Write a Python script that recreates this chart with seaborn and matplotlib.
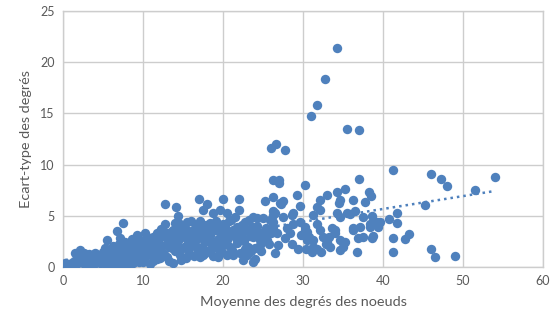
import matplotlib
matplotlib.use("Agg")
import matplotlib.pyplot as plt
import numpy as np
import pandas as pd
import seaborn as sns

# Nodes: (mean degree, std of degree), grouped by mean-degree band
band_0_5 = [(0.3, 0.4), (0.45, 0.35), (0.5, 0.1), (0.65, 0.35), (0.8, 0.3), (1.1, 0.0),
            (1.3, 0.5), (1.5, 1.35), (1.7, 0.9), (1.9, 0.4), (2.1, 1.65), (2.2, 1.2),
            (2.4, 0.8), (2.6, 1.4), (2.8, 0.2), (3.0, 0.05), (3.1, 0.9), (3.3, 1.3),
            (3.5, 0.5), (3.7, 1.1), (3.9, 0.3), (4.0, 1.4), (4.2, 0.8), (4.4, 1.2),
            (4.6, 0.4), (4.8, 1.0), (5.0, 1.5)]

band_5_10 = [(5.1, 0.6), (5.2, 0.3), (5.3, 1.9), (5.4, 1.0), (5.5, 2.65), (5.6, 1.2),
             (5.7, 1.7), (5.8, 0.3), (5.9, 0.6), (6.0, 1.7), (6.1, 0.9), (6.2, 1.3),
             (6.3, 2.1), (6.4, 0.2), (6.5, 1.4), (6.6, 1.8), (6.7, 3.55), (6.8, 0.5),
             (6.9, 0.05), (6.9, 1.0), (7.0, 2.3), (7.1, 2.8), (7.2, 1.1), (7.3, 1.6),
             (7.4, 0.3), (7.45, 4.3), (7.5, 1.8), (7.6, 0.7), (7.7, 2.0), (7.8, 2.5),
             (7.9, 1.1), (8.0, 1.5), (8.1, 0.3), (8.2, 0.7), (8.3, 2.2), (8.4, 1.7),
             (8.5, 1.0), (8.6, 2.7), (8.7, 0.4), (8.8, 1.8), (8.9, 2.3), (9.0, 0.6),
             (9.1, 2.4), (9.2, 3.1), (9.3, 1.6), (9.4, 1.3), (9.5, 0.5), (9.6, 2.0),
             (9.7, 2.6), (9.8, 0.9), (9.9, 1.5)]

band_10_20 = [(10.0, 0.5), (10.0, 2.6), (10.2, 1.0), (10.25, 3.3), (10.4, 1.6), (10.5, 2.9),
              (10.6, 2.2), (10.8, 1.8), (10.9, 0.35), (11.0, 1.2), (11.1, 2.5), (11.2, 2.9),
              (11.3, 0.6), (11.4, 1.9), (11.6, 1.5), (11.7, 3.3), (11.8, 0.8), (11.9, 2.8),
              (12.0, 2.4), (12.1, 0.9), (12.2, 1.5), (12.3, 3.7), (12.4, 2.1), (12.5, 3.0),
              (12.6, 1.3), (12.75, 4.25), (12.8, 6.15), (12.8, 3.2), (13.0, 3.3), (13.0, 1.0),
              (13.1, 2.5), (13.2, 0.6), (13.3, 2.0), (13.5, 2.7), (13.5, 3.4), (13.6, 1.9),
              (13.75, 0.4), (13.8, 3.6), (13.9, 2.9), (14.0, 1.6), (14.0, 4.3), (14.1, 5.9),
              (14.2, 2.3), (14.3, 3.6), (14.4, 4.95), (14.5, 2.7), (14.6, 4.25), (14.6, 1.2),
              (14.7, 1.8), (14.8, 0.7), (14.9, 3.1), (15.0, 4.0), (15.1, 2.0), (15.2, 2.9),
              (15.3, 3.8), (15.4, 0.9), (15.5, 4.4), (15.6, 2.6), (15.7, 3.4), (15.8, 1.4),
              (15.9, 2.0), (16.0, 3.2), (16.0, 4.5), (16.2, 2.9), (16.3, 3.6), (16.4, 1.1),
              (16.5, 2.2), (16.6, 3.5), (16.7, 4.0), (16.8, 2.7), (16.9, 1.7), (17.0, 6.7),
              (17.1, 4.5), (17.1, 3.3), (17.1, 1.0), (17.3, 3.9), (17.4, 2.0), (17.5, 5.6),
              (17.5, 1.2), (17.6, 3.0), (17.75, 1.35), (17.8, 2.5), (17.9, 4.1), (18.0, 6.15),
              (18.0, 3.6), (18.1, 1.6), (18.2, 2.9), (18.3, 3.2), (18.4, 4.3), (18.5, 2.4),
              (18.6, 1.9), (18.8, 5.25), (18.8, 1.05), (18.9, 3.6), (19.0, 3.9), (19.1, 4.5),
              (19.2, 2.65), (19.3, 1.9), (19.4, 1.0), (19.5, 4.0), (19.6, 5.6), (19.6, 3.3),
              (19.6, 1.35), (19.8, 2.9), (19.8, 2.1), (19.9, 1.5)]

band_20_30 = [(20.0, 6.65), (20.0, 4.2), (20.2, 3.9), (20.25, 3.3), (20.4, 2.3), (20.5, 5.3),
              (20.5, 2.65), (20.5, 1.15), (20.7, 4.5), (20.8, 3.0), (20.9, 2.0), (21.0, 4.6),
              (21.1, 1.7), (21.3, 3.6), (21.3, 1.15), (21.5, 4.9), (21.6, 2.8), (21.7, 3.95),
              (21.8, 2.4), (21.9, 3.4), (22.0, 6.65), (22.0, 5.55), (22.1, 1.4), (22.3, 3.0),
              (22.4, 4.1), (22.5, 0.7), (22.6, 2.6), (22.75, 4.4), (22.75, 1.8), (22.9, 3.6),
              (23.0, 1.2), (23.1, 2.0), (23.2, 4.6), (23.4, 3.0), (23.5, 1.6), (23.6, 3.95),
              (23.8, 4.9), (23.8, 2.95), (23.8, 0.5), (23.9, 3.5), (24.0, 1.9), (24.0, 0.75),
              (24.2, 4.75), (24.3, 4.0), (24.5, 3.2), (24.6, 2.65), (24.6, 2.15), (24.8, 1.6),
              (25.0, 4.8), (25.0, 3.45), (25.2, 2.9), (25.3, 6.45), (25.4, 3.8), (25.5, 2.65),
              (25.7, 2.3), (25.9, 4.6), (26.0, 11.65), (26.0, 3.3), (26.3, 8.55), (26.3, 6.85),
              (26.3, 5.5), (26.3, 5.1), (26.3, 4.4), (26.3, 3.95), (26.5, 5.25), (26.5, 1.35),
              (26.6, 12.0), (26.7, 3.3), (26.9, 2.15), (27.0, 8.5), (27.0, 8.2), (27.1, 6.3),
              (27.3, 6.2), (27.5, 6.45), (27.5, 4.9), (27.8, 11.4), (27.8, 2.8), (28.0, 3.8),
              (28.4, 3.3), (28.6, 5.1), (28.6, 2.3), (28.8, 5.25), (28.8, 4.25), (29.2, 7.05),
              (29.4, 1.8), (29.6, 6.0), (29.6, 4.4), (29.8, 3.1)]

band_30_40 = [(30.25, 8.0), (30.25, 3.6), (30.25, 3.95), (30.4, 1.8), (30.5, 2.65), (30.5, 3.45),
              (30.7, 2.95), (31.0, 14.75), (31.1, 1.5), (31.25, 2.65), (31.3, 5.1), (31.3, 2.0),
              (31.7, 5.9), (31.75, 15.8), (31.75, 4.25), (31.7, 1.8), (32.1, 6.55), (32.1, 5.55),
              (32.1, 3.6), (32.3, 1.5), (32.5, 2.95), (32.75, 18.4), (32.9, 2.3), (33.0, 7.0),
              (33.0, 2.5), (33.3, 2.95), (33.4, 2.0), (33.6, 3.8), (34.0, 3.6), (34.0, 3.3),
              (34.2, 7.35), (34.2, 5.25), (34.25, 21.35), (34.5, 6.3), (34.6, 6.55), (34.6, 4.9),
              (34.6, 2.65), (34.6, 1.65), (35.0, 2.0), (35.2, 2.5), (35.25, 7.6), (35.5, 13.45),
              (35.5, 5.3), (35.9, 5.15), (36.2, 6.55), (36.3, 3.6), (36.3, 3.8), (36.5, 5.5),
              (36.7, 1.5), (36.9, 2.85), (37.0, 13.4), (37.0, 8.65), (37.1, 3.95), (37.5, 4.9),
              (37.5, 2.95), (37.8, 6.4), (38.2, 7.35), (38.45, 6.95), (38.4, 4.25), (38.4, 3.95),
              (38.6, 5.0), (38.6, 2.8), (38.8, 3.0), (39.0, 4.4), (39.2, 4.4), (39.4, 3.95),
              (39.6, 4.4)]

band_40_up = [(40.8, 4.7), (41.2, 9.5), (41.3, 2.85), (41.3, 1.45), (41.7, 5.25), (41.7, 4.35),
              (42.7, 2.7), (43.3, 3.2), (45.25, 6.1), (46.0, 9.05), (46.0, 1.8), (46.5, 1.0),
              (47.2, 8.6), (48.0, 7.9), (49.0, 1.05), (51.5, 7.5), (54.0, 8.8)]

# Linear trend line: std = slope * mean + intercept
trend_slope = 0.1255
trend_intercept = 0.66

x_ticks = [0, 10, 20, 30, 40, 50, 60]
y_ticks = [0, 5, 10, 15, 20, 25]

points = band_0_5 + band_5_10 + band_10_20 + band_20_30 + band_30_40 + band_40_up
df = pd.DataFrame(points, columns=["mean_deg", "std_deg"])

sns.set_theme(style="white")
plt.rcParams["font.family"] = ["Lato", "DejaVu Sans"]

blue = "#4F81BD"
grey_text = "#595959"
grid_col = "#CDCDCD"

fig, ax = plt.subplots(figsize=(5.6, 3.25), dpi=100)
fig.subplots_adjust(left=0.1125, right=0.9696, top=0.966, bottom=0.178)

sns.scatterplot(data=df, x="mean_deg", y="std_deg", ax=ax, color=blue,
                s=46, linewidth=0, alpha=1.0, zorder=3, legend=False)

tx = np.array([df["mean_deg"].min(), df["mean_deg"].max()])
ax.plot(tx, trend_slope * tx + trend_intercept, color=blue,
        linestyle=(0, (1, 1.6)), linewidth=1.8, zorder=4)

ax.set_xlim(0, 60)
ax.set_ylim(0, 25)
ax.set_xticks(x_ticks)
ax.set_yticks(y_ticks)
ax.grid(True, color=grid_col, linewidth=1.0, zorder=0)
ax.set_axisbelow(True)
for sp in ax.spines.values():
    sp.set_color(grid_col)
    sp.set_linewidth(1.0)

ax.tick_params(axis="both", length=0, labelsize=9, colors=grey_text, pad=6)
ax.set_xlabel("Moyenne des degrés des noeuds", fontsize=10.4, color=grey_text, labelpad=6)
ax.set_ylabel("Ecart-type des degrés", fontsize=10.4, color=grey_text, labelpad=6)

fig.savefig("out.png", dpi=100)
